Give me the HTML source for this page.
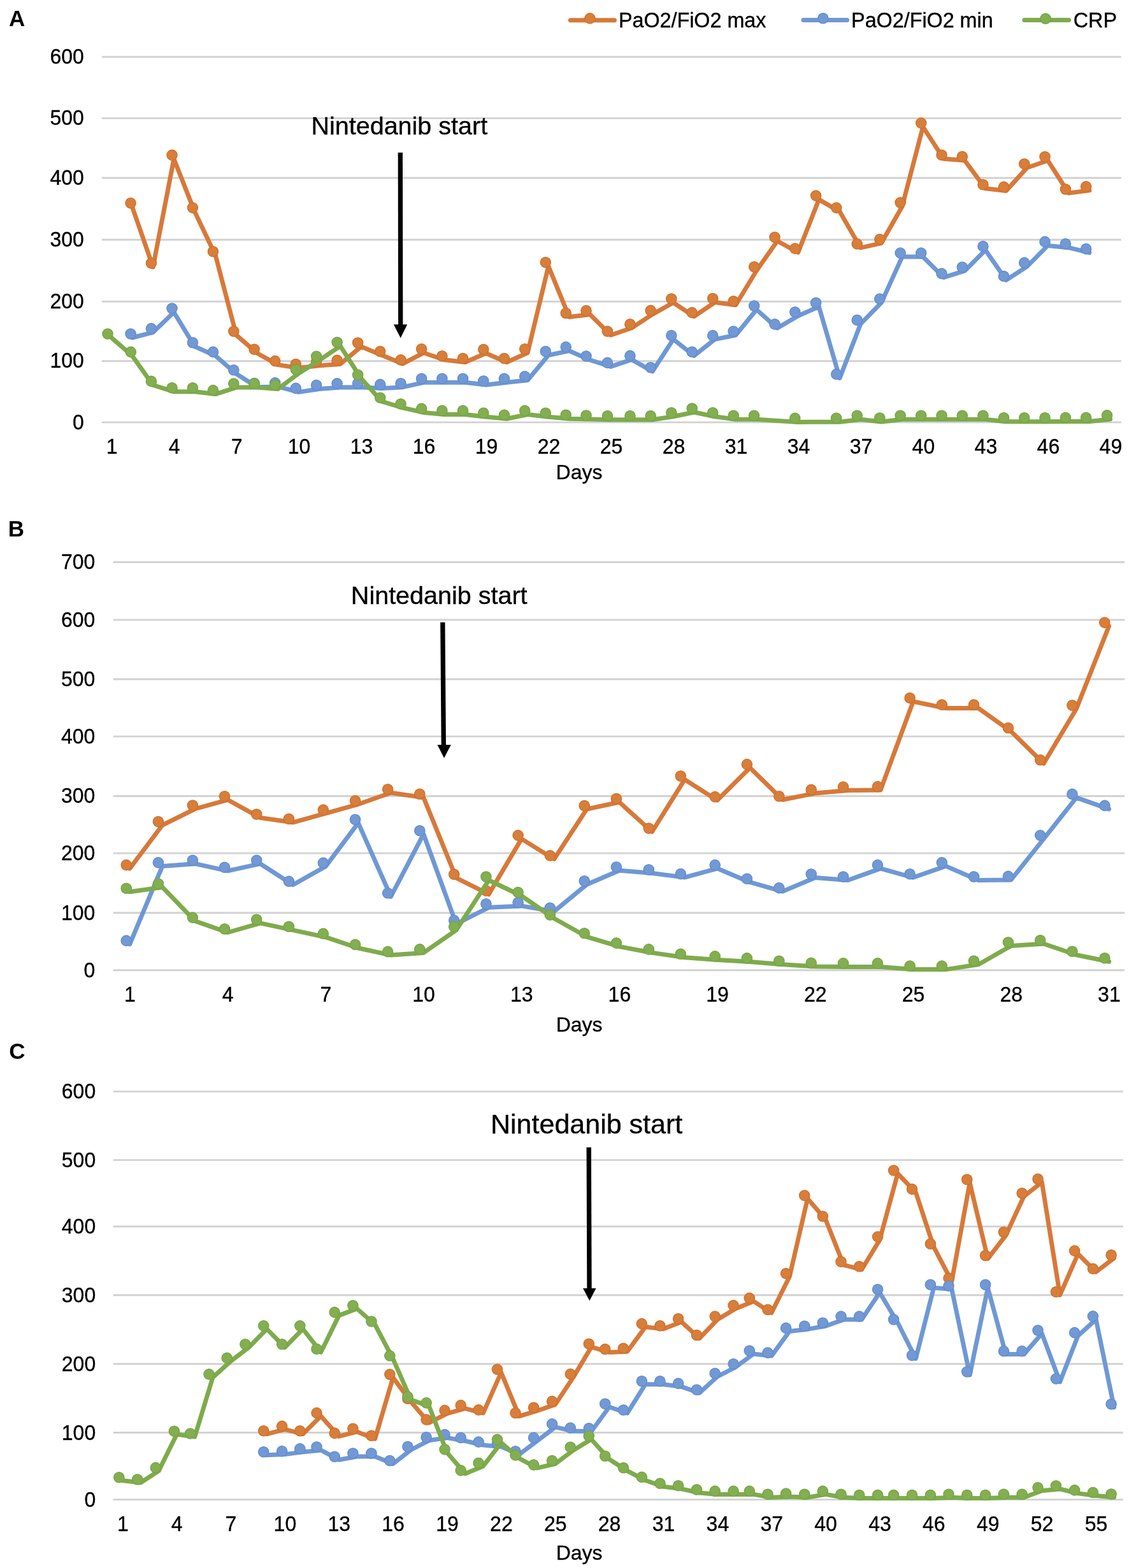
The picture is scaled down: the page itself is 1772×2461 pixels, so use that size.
<!DOCTYPE html>
<html><head><meta charset="utf-8"><title>Figure</title>
<style>html,body{margin:0;padding:0;background:#fff}svg{display:block}</style>
</head><body>
<svg width="1772" height="2461" viewBox="0 0 1772 2461">
<style>.t{font-family:'Liberation Sans', Arial, Helvetica, sans-serif;font-size:32px;fill:#000;stroke:#000;stroke-width:0.35px}.L{font-family:'Liberation Sans', Arial, Helvetica, sans-serif;font-size:35px;font-weight:bold;fill:#000}</style>
<rect width="1772" height="2461" fill="#fff"/>
<text x="14" y="41.2" class="L">A</text>
<text x="12.7" y="841.9" class="L">B</text>
<text x="14.2" y="1662.4" class="L">C</text>
<line x1="895.3" y1="31.7" x2="964.5" y2="31.7" stroke="#d7793a" stroke-width="7.0" stroke-linecap="round"/>
<circle cx="925.9" cy="28.9" r="8.15" fill="#d77e3b" stroke="#cf6f28" stroke-width="1.3"/>
<text x="970.9" y="42.7" class="t" style="font-size:32.3px">PaO2/FiO2 max</text>
<line x1="1261" y1="31.6" x2="1329.5" y2="31.6" stroke="#6f98d4" stroke-width="7.0" stroke-linecap="round"/>
<circle cx="1291.8" cy="28.7" r="8.15" fill="#7299d3" stroke="#5f8bd0" stroke-width="1.3"/>
<text x="1336.1" y="42.7" class="t" style="font-size:32.3px">PaO2/FiO2 min</text>
<line x1="1607.8" y1="31.5" x2="1677.5" y2="31.5" stroke="#7eab4c" stroke-width="7.0" stroke-linecap="round"/>
<circle cx="1641" cy="29.3" r="8.15" fill="#84ae52" stroke="#73a640" stroke-width="1.3"/>
<text x="1684.8" y="42.7" class="t" style="font-size:32.3px">CRP</text>
<line x1="159.8" y1="89.2" x2="1759.7" y2="89.2" stroke="#d2d2d2" stroke-width="2.9"/>
<line x1="159.8" y1="185.6" x2="1759.7" y2="185.6" stroke="#d2d2d2" stroke-width="2.9"/>
<line x1="159.8" y1="279.2" x2="1759.7" y2="279.2" stroke="#d2d2d2" stroke-width="2.9"/>
<line x1="159.8" y1="376.3" x2="1759.7" y2="376.3" stroke="#d2d2d2" stroke-width="2.9"/>
<line x1="159.8" y1="473.2" x2="1759.7" y2="473.2" stroke="#d2d2d2" stroke-width="2.9"/>
<line x1="159.8" y1="566.8" x2="1759.7" y2="566.8" stroke="#d2d2d2" stroke-width="2.9"/>
<line x1="159.8" y1="662.9" x2="1759.7" y2="662.9" stroke="#d2d2d2" stroke-width="2.9"/>
<text transform="translate(131.8,99.8) scale(1,1.045)" text-anchor="end" class="t">600</text>
<text transform="translate(131.8,196.2) scale(1,1.045)" text-anchor="end" class="t">500</text>
<text transform="translate(131.8,289.8) scale(1,1.045)" text-anchor="end" class="t">400</text>
<text transform="translate(131.8,386.9) scale(1,1.045)" text-anchor="end" class="t">300</text>
<text transform="translate(131.8,483.8) scale(1,1.045)" text-anchor="end" class="t">200</text>
<text transform="translate(131.8,577.4) scale(1,1.045)" text-anchor="end" class="t">100</text>
<text transform="translate(131.8,673.5) scale(1,1.045)" text-anchor="end" class="t">0</text>
<text transform="translate(175.7,711.9) scale(1,1.045)" text-anchor="middle" class="t">1</text>
<text transform="translate(273.7,711.9) scale(1,1.045)" text-anchor="middle" class="t">4</text>
<text transform="translate(371.7,711.9) scale(1,1.045)" text-anchor="middle" class="t">7</text>
<text transform="translate(469.6,711.9) scale(1,1.045)" text-anchor="middle" class="t">10</text>
<text transform="translate(567.6,711.9) scale(1,1.045)" text-anchor="middle" class="t">13</text>
<text transform="translate(665.6,711.9) scale(1,1.045)" text-anchor="middle" class="t">16</text>
<text transform="translate(763.6,711.9) scale(1,1.045)" text-anchor="middle" class="t">19</text>
<text transform="translate(861.6,711.9) scale(1,1.045)" text-anchor="middle" class="t">22</text>
<text transform="translate(959.5,711.9) scale(1,1.045)" text-anchor="middle" class="t">25</text>
<text transform="translate(1057.5,711.9) scale(1,1.045)" text-anchor="middle" class="t">28</text>
<text transform="translate(1155.5,711.9) scale(1,1.045)" text-anchor="middle" class="t">31</text>
<text transform="translate(1253.5,711.9) scale(1,1.045)" text-anchor="middle" class="t">34</text>
<text transform="translate(1351.5,711.9) scale(1,1.045)" text-anchor="middle" class="t">37</text>
<text transform="translate(1449.4,711.9) scale(1,1.045)" text-anchor="middle" class="t">40</text>
<text transform="translate(1547.4,711.9) scale(1,1.045)" text-anchor="middle" class="t">43</text>
<text transform="translate(1645.4,711.9) scale(1,1.045)" text-anchor="middle" class="t">46</text>
<text transform="translate(1743.4,711.9) scale(1,1.045)" text-anchor="middle" class="t">49</text>
<text x="909" y="752.1" text-anchor="middle" class="t">Days</text>
<text x="626.8" y="210.6" text-anchor="middle" class="t" style="font-size:39.5px">Nintedanib start</text>
<line x1="628.3" y1="239.4" x2="628.7" y2="511.3" stroke="#000" stroke-width="7.3"/>
<polygon points="617.9,509.3 639.2,509.3 628.7,530.4" fill="#000"/>
<polyline points="207.6,324.8 240.2,419.1 272.9,249.4 305.5,332.1 338.2,400.7 370.9,526 403.5,554.2 436.2,572.6 468.8,577.5 501.5,573.8 534.2,571.4 566.8,544 599.5,557.5 632.1,570.9 664.8,553.8 697.5,564.8 730.1,568.5 762.8,554.5 795.4,568.5 828.1,553.8 860.8,417.8 893.4,497.5 926.1,493.6 958.7,526 991.4,514.7 1024.1,493.4 1056.7,475 1089.4,496.6 1122,474.5 1154.7,478.7 1187.4,424.8 1220,378.3 1252.7,396.1 1285.3,313.1 1318,332.1 1350.7,388.9 1383.3,381.6 1416,324 1448.6,199.1 1481.3,249.3 1514,251.7 1546.6,295.8 1579.3,299.4 1611.9,263.3 1644.6,252 1677.3,303 1709.9,298.9" fill="none" stroke="#d7793a" stroke-width="7.0" stroke-linejoin="round" stroke-linecap="round"/>
<circle cx="205.1" cy="318.8" r="8.15" fill="#d77e3b" stroke="#cf6f28" stroke-width="1.3"/>
<circle cx="237.4" cy="413.1" r="8.15" fill="#d77e3b" stroke="#cf6f28" stroke-width="1.3"/>
<circle cx="270" cy="243.4" r="8.15" fill="#d77e3b" stroke="#cf6f28" stroke-width="1.3"/>
<circle cx="302.4" cy="326.1" r="8.15" fill="#d77e3b" stroke="#cf6f28" stroke-width="1.3"/>
<circle cx="334.4" cy="394.7" r="8.15" fill="#d77e3b" stroke="#cf6f28" stroke-width="1.3"/>
<circle cx="366.8" cy="520" r="8.15" fill="#d77e3b" stroke="#cf6f28" stroke-width="1.3"/>
<circle cx="399.1" cy="548.2" r="8.15" fill="#d77e3b" stroke="#cf6f28" stroke-width="1.3"/>
<circle cx="431.7" cy="566.6" r="8.15" fill="#d77e3b" stroke="#cf6f28" stroke-width="1.3"/>
<circle cx="464.3" cy="571.5" r="8.15" fill="#d77e3b" stroke="#cf6f28" stroke-width="1.3"/>
<circle cx="496.6" cy="567.8" r="8.15" fill="#d77e3b" stroke="#cf6f28" stroke-width="1.3"/>
<circle cx="529.1" cy="565.4" r="8.15" fill="#d77e3b" stroke="#cf6f28" stroke-width="1.3"/>
<circle cx="561.6" cy="538" r="8.15" fill="#d77e3b" stroke="#cf6f28" stroke-width="1.3"/>
<circle cx="596.7" cy="551.5" r="8.15" fill="#d77e3b" stroke="#cf6f28" stroke-width="1.3"/>
<circle cx="629" cy="564.9" r="8.15" fill="#d77e3b" stroke="#cf6f28" stroke-width="1.3"/>
<circle cx="661.6" cy="547.8" r="8.15" fill="#d77e3b" stroke="#cf6f28" stroke-width="1.3"/>
<circle cx="693.9" cy="558.8" r="8.15" fill="#d77e3b" stroke="#cf6f28" stroke-width="1.3"/>
<circle cx="726.5" cy="562.5" r="8.15" fill="#d77e3b" stroke="#cf6f28" stroke-width="1.3"/>
<circle cx="758.8" cy="548.5" r="8.15" fill="#d77e3b" stroke="#cf6f28" stroke-width="1.3"/>
<circle cx="791.4" cy="562.5" r="8.15" fill="#d77e3b" stroke="#cf6f28" stroke-width="1.3"/>
<circle cx="823.7" cy="547.8" r="8.15" fill="#d77e3b" stroke="#cf6f28" stroke-width="1.3"/>
<circle cx="856.3" cy="411.8" r="8.15" fill="#d77e3b" stroke="#cf6f28" stroke-width="1.3"/>
<circle cx="888.2" cy="491.5" r="8.15" fill="#d77e3b" stroke="#cf6f28" stroke-width="1.3"/>
<circle cx="920" cy="487.6" r="8.15" fill="#d77e3b" stroke="#cf6f28" stroke-width="1.3"/>
<circle cx="953.4" cy="520" r="8.15" fill="#d77e3b" stroke="#cf6f28" stroke-width="1.3"/>
<circle cx="988.9" cy="508.7" r="8.15" fill="#d77e3b" stroke="#cf6f28" stroke-width="1.3"/>
<circle cx="1021.2" cy="487.4" r="8.15" fill="#d77e3b" stroke="#cf6f28" stroke-width="1.3"/>
<circle cx="1053.8" cy="469" r="8.15" fill="#d77e3b" stroke="#cf6f28" stroke-width="1.3"/>
<circle cx="1086.2" cy="490.6" r="8.15" fill="#d77e3b" stroke="#cf6f28" stroke-width="1.3"/>
<circle cx="1118.7" cy="468.5" r="8.15" fill="#d77e3b" stroke="#cf6f28" stroke-width="1.3"/>
<circle cx="1151.1" cy="472.7" r="8.15" fill="#d77e3b" stroke="#cf6f28" stroke-width="1.3"/>
<circle cx="1183.7" cy="418.8" r="8.15" fill="#d77e3b" stroke="#cf6f28" stroke-width="1.3"/>
<circle cx="1216" cy="372.3" r="8.15" fill="#d77e3b" stroke="#cf6f28" stroke-width="1.3"/>
<circle cx="1247.8" cy="390.1" r="8.15" fill="#d77e3b" stroke="#cf6f28" stroke-width="1.3"/>
<circle cx="1280.6" cy="307.1" r="8.15" fill="#d77e3b" stroke="#cf6f28" stroke-width="1.3"/>
<circle cx="1312.7" cy="326.1" r="8.15" fill="#d77e3b" stroke="#cf6f28" stroke-width="1.3"/>
<circle cx="1345.2" cy="382.9" r="8.15" fill="#d77e3b" stroke="#cf6f28" stroke-width="1.3"/>
<circle cx="1380.8" cy="375.6" r="8.15" fill="#d77e3b" stroke="#cf6f28" stroke-width="1.3"/>
<circle cx="1413.1" cy="318" r="8.15" fill="#d77e3b" stroke="#cf6f28" stroke-width="1.3"/>
<circle cx="1445.7" cy="193.1" r="8.15" fill="#d77e3b" stroke="#cf6f28" stroke-width="1.3"/>
<circle cx="1478" cy="243.3" r="8.15" fill="#d77e3b" stroke="#cf6f28" stroke-width="1.3"/>
<circle cx="1510.3" cy="245.7" r="8.15" fill="#d77e3b" stroke="#cf6f28" stroke-width="1.3"/>
<circle cx="1542.9" cy="289.8" r="8.15" fill="#d77e3b" stroke="#cf6f28" stroke-width="1.3"/>
<circle cx="1575.5" cy="293.4" r="8.15" fill="#d77e3b" stroke="#cf6f28" stroke-width="1.3"/>
<circle cx="1607.7" cy="257.3" r="8.15" fill="#d77e3b" stroke="#cf6f28" stroke-width="1.3"/>
<circle cx="1640" cy="246" r="8.15" fill="#d77e3b" stroke="#cf6f28" stroke-width="1.3"/>
<circle cx="1672.4" cy="297" r="8.15" fill="#d77e3b" stroke="#cf6f28" stroke-width="1.3"/>
<circle cx="1704.6" cy="292.9" r="8.15" fill="#d77e3b" stroke="#cf6f28" stroke-width="1.3"/>
<polyline points="207.6,530 240.2,521.6 272.9,490 305.5,543.7 338.2,558.4 370.9,586.8 403.5,607.5 436.2,606.9 468.8,615.4 501.5,610.5 534.2,607.9 566.8,607.7 599.5,609.4 632.1,607.7 664.8,600.3 697.5,600.3 730.1,600.3 762.8,604 795.4,600.3 828.1,596.7 860.8,557.5 893.4,550.6 926.1,565 958.7,575.4 991.4,564.4 1024.1,582.8 1056.7,532.6 1089.4,558.3 1122,532.6 1154.7,526 1187.4,486 1220,514.9 1252.7,495.8 1285.3,481.3 1318,593.4 1350.7,508.4 1383.3,475.1 1416,403.1 1448.6,403.1 1481.3,435.4 1514,425.2 1546.6,392.6 1579.3,439.5 1611.9,418.4 1644.6,385.4 1677.3,388.7 1709.9,396.6" fill="none" stroke="#6f98d4" stroke-width="7.0" stroke-linejoin="round" stroke-linecap="round"/>
<circle cx="205.1" cy="524" r="8.15" fill="#7299d3" stroke="#5f8bd0" stroke-width="1.3"/>
<circle cx="237.4" cy="515.6" r="8.15" fill="#7299d3" stroke="#5f8bd0" stroke-width="1.3"/>
<circle cx="270" cy="484" r="8.15" fill="#7299d3" stroke="#5f8bd0" stroke-width="1.3"/>
<circle cx="302.4" cy="537.7" r="8.15" fill="#7299d3" stroke="#5f8bd0" stroke-width="1.3"/>
<circle cx="334.4" cy="552.4" r="8.15" fill="#7299d3" stroke="#5f8bd0" stroke-width="1.3"/>
<circle cx="366.8" cy="580.8" r="8.15" fill="#7299d3" stroke="#5f8bd0" stroke-width="1.3"/>
<circle cx="399.1" cy="601.5" r="8.15" fill="#7299d3" stroke="#5f8bd0" stroke-width="1.3"/>
<circle cx="431.7" cy="600.9" r="8.15" fill="#7299d3" stroke="#5f8bd0" stroke-width="1.3"/>
<circle cx="464.3" cy="609.4" r="8.15" fill="#7299d3" stroke="#5f8bd0" stroke-width="1.3"/>
<circle cx="496.6" cy="604.5" r="8.15" fill="#7299d3" stroke="#5f8bd0" stroke-width="1.3"/>
<circle cx="529.1" cy="601.9" r="8.15" fill="#7299d3" stroke="#5f8bd0" stroke-width="1.3"/>
<circle cx="561.6" cy="601.7" r="8.15" fill="#7299d3" stroke="#5f8bd0" stroke-width="1.3"/>
<circle cx="596.7" cy="603.4" r="8.15" fill="#7299d3" stroke="#5f8bd0" stroke-width="1.3"/>
<circle cx="629" cy="601.7" r="8.15" fill="#7299d3" stroke="#5f8bd0" stroke-width="1.3"/>
<circle cx="661.6" cy="594.3" r="8.15" fill="#7299d3" stroke="#5f8bd0" stroke-width="1.3"/>
<circle cx="693.9" cy="594.3" r="8.15" fill="#7299d3" stroke="#5f8bd0" stroke-width="1.3"/>
<circle cx="726.5" cy="594.3" r="8.15" fill="#7299d3" stroke="#5f8bd0" stroke-width="1.3"/>
<circle cx="758.8" cy="598" r="8.15" fill="#7299d3" stroke="#5f8bd0" stroke-width="1.3"/>
<circle cx="791.4" cy="594.3" r="8.15" fill="#7299d3" stroke="#5f8bd0" stroke-width="1.3"/>
<circle cx="823.7" cy="590.7" r="8.15" fill="#7299d3" stroke="#5f8bd0" stroke-width="1.3"/>
<circle cx="856.3" cy="551.5" r="8.15" fill="#7299d3" stroke="#5f8bd0" stroke-width="1.3"/>
<circle cx="888.2" cy="544.6" r="8.15" fill="#7299d3" stroke="#5f8bd0" stroke-width="1.3"/>
<circle cx="920" cy="559" r="8.15" fill="#7299d3" stroke="#5f8bd0" stroke-width="1.3"/>
<circle cx="953.4" cy="569.4" r="8.15" fill="#7299d3" stroke="#5f8bd0" stroke-width="1.3"/>
<circle cx="988.9" cy="558.4" r="8.15" fill="#7299d3" stroke="#5f8bd0" stroke-width="1.3"/>
<circle cx="1021.2" cy="576.8" r="8.15" fill="#7299d3" stroke="#5f8bd0" stroke-width="1.3"/>
<circle cx="1053.8" cy="526.6" r="8.15" fill="#7299d3" stroke="#5f8bd0" stroke-width="1.3"/>
<circle cx="1086.2" cy="552.3" r="8.15" fill="#7299d3" stroke="#5f8bd0" stroke-width="1.3"/>
<circle cx="1118.7" cy="526.6" r="8.15" fill="#7299d3" stroke="#5f8bd0" stroke-width="1.3"/>
<circle cx="1151.1" cy="520" r="8.15" fill="#7299d3" stroke="#5f8bd0" stroke-width="1.3"/>
<circle cx="1183.7" cy="480" r="8.15" fill="#7299d3" stroke="#5f8bd0" stroke-width="1.3"/>
<circle cx="1216" cy="508.9" r="8.15" fill="#7299d3" stroke="#5f8bd0" stroke-width="1.3"/>
<circle cx="1247.8" cy="489.8" r="8.15" fill="#7299d3" stroke="#5f8bd0" stroke-width="1.3"/>
<circle cx="1280.6" cy="475.3" r="8.15" fill="#7299d3" stroke="#5f8bd0" stroke-width="1.3"/>
<circle cx="1312.7" cy="587.4" r="8.15" fill="#7299d3" stroke="#5f8bd0" stroke-width="1.3"/>
<circle cx="1345.2" cy="502.4" r="8.15" fill="#7299d3" stroke="#5f8bd0" stroke-width="1.3"/>
<circle cx="1380.8" cy="469.1" r="8.15" fill="#7299d3" stroke="#5f8bd0" stroke-width="1.3"/>
<circle cx="1413.1" cy="397.1" r="8.15" fill="#7299d3" stroke="#5f8bd0" stroke-width="1.3"/>
<circle cx="1445.7" cy="397.1" r="8.15" fill="#7299d3" stroke="#5f8bd0" stroke-width="1.3"/>
<circle cx="1478" cy="429.4" r="8.15" fill="#7299d3" stroke="#5f8bd0" stroke-width="1.3"/>
<circle cx="1510.3" cy="419.2" r="8.15" fill="#7299d3" stroke="#5f8bd0" stroke-width="1.3"/>
<circle cx="1542.9" cy="386.6" r="8.15" fill="#7299d3" stroke="#5f8bd0" stroke-width="1.3"/>
<circle cx="1575.5" cy="433.5" r="8.15" fill="#7299d3" stroke="#5f8bd0" stroke-width="1.3"/>
<circle cx="1607.7" cy="412.4" r="8.15" fill="#7299d3" stroke="#5f8bd0" stroke-width="1.3"/>
<circle cx="1640" cy="379.4" r="8.15" fill="#7299d3" stroke="#5f8bd0" stroke-width="1.3"/>
<circle cx="1672.4" cy="382.7" r="8.15" fill="#7299d3" stroke="#5f8bd0" stroke-width="1.3"/>
<circle cx="1704.6" cy="390.6" r="8.15" fill="#7299d3" stroke="#5f8bd0" stroke-width="1.3"/>
<polyline points="174.9,530 207.6,558.4 240.2,604.4 272.9,614.7 305.5,614.7 338.2,618.6 370.9,608.1 403.5,608.1 436.2,610.5 468.8,586 501.5,565.2 534.2,543.2 566.8,594.2 599.5,630.2 632.1,640 664.8,647.4 697.5,650.5 730.1,650.5 762.8,654.2 795.4,657.2 828.1,650.5 860.8,654.2 893.4,657.2 926.1,658 958.7,658.7 991.4,658.7 1024.1,658.7 1056.7,653.8 1089.4,647 1122,653.8 1154.7,658.3 1187.4,658.3 1252.7,662.4 1318,662.2 1350.7,658.3 1383.3,662 1416,658.3 1448.6,658.3 1481.3,658.3 1514,658.3 1546.6,658.3 1579.3,661.7 1611.9,661.7 1644.6,661.7 1677.3,661.5 1709.9,661.5 1742.6,657.9" fill="none" stroke="#7eab4c" stroke-width="7.0" stroke-linejoin="round" stroke-linecap="round"/>
<circle cx="169" cy="524" r="8.15" fill="#84ae52" stroke="#73a640" stroke-width="1.3"/>
<circle cx="205.3" cy="552.4" r="8.15" fill="#84ae52" stroke="#73a640" stroke-width="1.3"/>
<circle cx="237.4" cy="598.4" r="8.15" fill="#84ae52" stroke="#73a640" stroke-width="1.3"/>
<circle cx="270" cy="608.7" r="8.15" fill="#84ae52" stroke="#73a640" stroke-width="1.3"/>
<circle cx="302.4" cy="608.7" r="8.15" fill="#84ae52" stroke="#73a640" stroke-width="1.3"/>
<circle cx="334.4" cy="612.6" r="8.15" fill="#84ae52" stroke="#73a640" stroke-width="1.3"/>
<circle cx="366.8" cy="602.1" r="8.15" fill="#84ae52" stroke="#73a640" stroke-width="1.3"/>
<circle cx="399.1" cy="602.1" r="8.15" fill="#84ae52" stroke="#73a640" stroke-width="1.3"/>
<circle cx="431.7" cy="604.5" r="8.15" fill="#84ae52" stroke="#73a640" stroke-width="1.3"/>
<circle cx="464.3" cy="580" r="8.15" fill="#84ae52" stroke="#73a640" stroke-width="1.3"/>
<circle cx="496.6" cy="559.2" r="8.15" fill="#84ae52" stroke="#73a640" stroke-width="1.3"/>
<circle cx="529.1" cy="537.2" r="8.15" fill="#84ae52" stroke="#73a640" stroke-width="1.3"/>
<circle cx="561.6" cy="588.2" r="8.15" fill="#84ae52" stroke="#73a640" stroke-width="1.3"/>
<circle cx="596.7" cy="624.2" r="8.15" fill="#84ae52" stroke="#73a640" stroke-width="1.3"/>
<circle cx="629" cy="634" r="8.15" fill="#84ae52" stroke="#73a640" stroke-width="1.3"/>
<circle cx="661.6" cy="641.4" r="8.15" fill="#84ae52" stroke="#73a640" stroke-width="1.3"/>
<circle cx="693.9" cy="644.5" r="8.15" fill="#84ae52" stroke="#73a640" stroke-width="1.3"/>
<circle cx="726.5" cy="644.5" r="8.15" fill="#84ae52" stroke="#73a640" stroke-width="1.3"/>
<circle cx="758.8" cy="648.2" r="8.15" fill="#84ae52" stroke="#73a640" stroke-width="1.3"/>
<circle cx="791.4" cy="651.2" r="8.15" fill="#84ae52" stroke="#73a640" stroke-width="1.3"/>
<circle cx="823.7" cy="644.5" r="8.15" fill="#84ae52" stroke="#73a640" stroke-width="1.3"/>
<circle cx="856.3" cy="648.2" r="8.15" fill="#84ae52" stroke="#73a640" stroke-width="1.3"/>
<circle cx="888.2" cy="651.2" r="8.15" fill="#84ae52" stroke="#73a640" stroke-width="1.3"/>
<circle cx="920" cy="652" r="8.15" fill="#84ae52" stroke="#73a640" stroke-width="1.3"/>
<circle cx="953.4" cy="652.7" r="8.15" fill="#84ae52" stroke="#73a640" stroke-width="1.3"/>
<circle cx="988.9" cy="652.7" r="8.15" fill="#84ae52" stroke="#73a640" stroke-width="1.3"/>
<circle cx="1021.2" cy="652.7" r="8.15" fill="#84ae52" stroke="#73a640" stroke-width="1.3"/>
<circle cx="1053.8" cy="647.8" r="8.15" fill="#84ae52" stroke="#73a640" stroke-width="1.3"/>
<circle cx="1086.2" cy="641" r="8.15" fill="#84ae52" stroke="#73a640" stroke-width="1.3"/>
<circle cx="1118.7" cy="647.8" r="8.15" fill="#84ae52" stroke="#73a640" stroke-width="1.3"/>
<circle cx="1151.3" cy="652.3" r="8.15" fill="#84ae52" stroke="#73a640" stroke-width="1.3"/>
<circle cx="1183.5" cy="652.3" r="8.15" fill="#84ae52" stroke="#73a640" stroke-width="1.3"/>
<circle cx="1247.8" cy="656.4" r="8.15" fill="#84ae52" stroke="#73a640" stroke-width="1.3"/>
<circle cx="1312.6" cy="656.2" r="8.15" fill="#84ae52" stroke="#73a640" stroke-width="1.3"/>
<circle cx="1345.2" cy="652.3" r="8.15" fill="#84ae52" stroke="#73a640" stroke-width="1.3"/>
<circle cx="1380.8" cy="656" r="8.15" fill="#84ae52" stroke="#73a640" stroke-width="1.3"/>
<circle cx="1413.1" cy="652.3" r="8.15" fill="#84ae52" stroke="#73a640" stroke-width="1.3"/>
<circle cx="1445.7" cy="652.3" r="8.15" fill="#84ae52" stroke="#73a640" stroke-width="1.3"/>
<circle cx="1478" cy="652.3" r="8.15" fill="#84ae52" stroke="#73a640" stroke-width="1.3"/>
<circle cx="1510.3" cy="652.3" r="8.15" fill="#84ae52" stroke="#73a640" stroke-width="1.3"/>
<circle cx="1542.9" cy="652.3" r="8.15" fill="#84ae52" stroke="#73a640" stroke-width="1.3"/>
<circle cx="1575.5" cy="655.7" r="8.15" fill="#84ae52" stroke="#73a640" stroke-width="1.3"/>
<circle cx="1607.7" cy="655.7" r="8.15" fill="#84ae52" stroke="#73a640" stroke-width="1.3"/>
<circle cx="1640" cy="655.7" r="8.15" fill="#84ae52" stroke="#73a640" stroke-width="1.3"/>
<circle cx="1672.4" cy="655.5" r="8.15" fill="#84ae52" stroke="#73a640" stroke-width="1.3"/>
<circle cx="1704.6" cy="655.5" r="8.15" fill="#84ae52" stroke="#73a640" stroke-width="1.3"/>
<circle cx="1737.5" cy="651.9" r="8.15" fill="#84ae52" stroke="#73a640" stroke-width="1.3"/>
<line x1="177.7" y1="882.2" x2="1765" y2="882.2" stroke="#d2d2d2" stroke-width="2.9"/>
<line x1="177.7" y1="972.9" x2="1765" y2="972.9" stroke="#d2d2d2" stroke-width="2.9"/>
<line x1="177.7" y1="1066" x2="1765" y2="1066" stroke="#d2d2d2" stroke-width="2.9"/>
<line x1="177.7" y1="1155.9" x2="1765" y2="1155.9" stroke="#d2d2d2" stroke-width="2.9"/>
<line x1="177.7" y1="1249.5" x2="1765" y2="1249.5" stroke="#d2d2d2" stroke-width="2.9"/>
<line x1="177.7" y1="1339.1" x2="1765" y2="1339.1" stroke="#d2d2d2" stroke-width="2.9"/>
<line x1="177.7" y1="1432.7" x2="1765" y2="1432.7" stroke="#d2d2d2" stroke-width="2.9"/>
<line x1="177.7" y1="1522.8" x2="1765" y2="1522.8" stroke="#d2d2d2" stroke-width="2.9"/>
<text transform="translate(149.4,893.1) scale(1,1.045)" text-anchor="end" class="t">700</text>
<text transform="translate(149.4,983.8) scale(1,1.045)" text-anchor="end" class="t">600</text>
<text transform="translate(149.4,1076.9) scale(1,1.045)" text-anchor="end" class="t">500</text>
<text transform="translate(149.4,1166.8) scale(1,1.045)" text-anchor="end" class="t">400</text>
<text transform="translate(149.4,1260.4) scale(1,1.045)" text-anchor="end" class="t">300</text>
<text transform="translate(149.4,1350) scale(1,1.045)" text-anchor="end" class="t">200</text>
<text transform="translate(149.4,1443.6) scale(1,1.045)" text-anchor="end" class="t">100</text>
<text transform="translate(149.4,1533.7) scale(1,1.045)" text-anchor="end" class="t">0</text>
<text transform="translate(204,1571.9) scale(1,1.045)" text-anchor="middle" class="t">1</text>
<text transform="translate(357.7,1571.9) scale(1,1.045)" text-anchor="middle" class="t">4</text>
<text transform="translate(511.4,1571.9) scale(1,1.045)" text-anchor="middle" class="t">7</text>
<text transform="translate(665.1,1571.9) scale(1,1.045)" text-anchor="middle" class="t">10</text>
<text transform="translate(818.8,1571.9) scale(1,1.045)" text-anchor="middle" class="t">13</text>
<text transform="translate(972.4,1571.9) scale(1,1.045)" text-anchor="middle" class="t">16</text>
<text transform="translate(1126.1,1571.9) scale(1,1.045)" text-anchor="middle" class="t">19</text>
<text transform="translate(1279.8,1571.9) scale(1,1.045)" text-anchor="middle" class="t">22</text>
<text transform="translate(1433.5,1571.9) scale(1,1.045)" text-anchor="middle" class="t">25</text>
<text transform="translate(1587.2,1571.9) scale(1,1.045)" text-anchor="middle" class="t">28</text>
<text transform="translate(1740.9,1571.9) scale(1,1.045)" text-anchor="middle" class="t">31</text>
<text x="909.1" y="1619.2" text-anchor="middle" class="t">Days</text>
<text x="689.2" y="947.6" text-anchor="middle" class="t" style="font-size:39.5px">Nintedanib start</text>
<line x1="694.8" y1="976.8" x2="696.3" y2="1171" stroke="#000" stroke-width="7.3"/>
<polygon points="686.5,1169 707.8,1169 697,1189.8" fill="#000"/>
<polyline points="203.7,1363.1 254.9,1295 306.2,1269.5 357.4,1255.3 408.6,1283.5 459.8,1290.8 511.1,1276.6 562.3,1262.3 613.5,1244.3 664.8,1251.7 716,1377.8 767.2,1403.5 818.5,1316.6 869.7,1348.4 920.9,1270 972.1,1259 1023.4,1305.5 1074.6,1223.5 1125.8,1256.1 1177.1,1205.1 1228.3,1255.3 1279.5,1245 1330.8,1240.6 1382,1240.1 1433.2,1101 1484.5,1111.6 1535.7,1111.6 1586.9,1148 1638.1,1198.3 1689.4,1112.5 1740.6,982.6" fill="none" stroke="#d7793a" stroke-width="7.0" stroke-linejoin="round" stroke-linecap="round"/>
<circle cx="198.2" cy="1357.6" r="8.15" fill="#d77e3b" stroke="#cf6f28" stroke-width="1.3"/>
<circle cx="248.4" cy="1289.5" r="8.15" fill="#d77e3b" stroke="#cf6f28" stroke-width="1.3"/>
<circle cx="302.3" cy="1264" r="8.15" fill="#d77e3b" stroke="#cf6f28" stroke-width="1.3"/>
<circle cx="352.5" cy="1249.8" r="8.15" fill="#d77e3b" stroke="#cf6f28" stroke-width="1.3"/>
<circle cx="402.7" cy="1278" r="8.15" fill="#d77e3b" stroke="#cf6f28" stroke-width="1.3"/>
<circle cx="453.4" cy="1285.3" r="8.15" fill="#d77e3b" stroke="#cf6f28" stroke-width="1.3"/>
<circle cx="507.3" cy="1271.1" r="8.15" fill="#d77e3b" stroke="#cf6f28" stroke-width="1.3"/>
<circle cx="557.5" cy="1256.8" r="8.15" fill="#d77e3b" stroke="#cf6f28" stroke-width="1.3"/>
<circle cx="608.6" cy="1238.8" r="8.15" fill="#d77e3b" stroke="#cf6f28" stroke-width="1.3"/>
<circle cx="658.8" cy="1246.2" r="8.15" fill="#d77e3b" stroke="#cf6f28" stroke-width="1.3"/>
<circle cx="712.7" cy="1372.3" r="8.15" fill="#d77e3b" stroke="#cf6f28" stroke-width="1.3"/>
<circle cx="762.9" cy="1398" r="8.15" fill="#d77e3b" stroke="#cf6f28" stroke-width="1.3"/>
<circle cx="813.1" cy="1311.1" r="8.15" fill="#d77e3b" stroke="#cf6f28" stroke-width="1.3"/>
<circle cx="863.3" cy="1342.9" r="8.15" fill="#d77e3b" stroke="#cf6f28" stroke-width="1.3"/>
<circle cx="917.2" cy="1264.5" r="8.15" fill="#d77e3b" stroke="#cf6f28" stroke-width="1.3"/>
<circle cx="967.4" cy="1253.5" r="8.15" fill="#d77e3b" stroke="#cf6f28" stroke-width="1.3"/>
<circle cx="1018.3" cy="1300" r="8.15" fill="#d77e3b" stroke="#cf6f28" stroke-width="1.3"/>
<circle cx="1068.3" cy="1218" r="8.15" fill="#d77e3b" stroke="#cf6f28" stroke-width="1.3"/>
<circle cx="1122.2" cy="1250.6" r="8.15" fill="#d77e3b" stroke="#cf6f28" stroke-width="1.3"/>
<circle cx="1172.4" cy="1199.6" r="8.15" fill="#d77e3b" stroke="#cf6f28" stroke-width="1.3"/>
<circle cx="1222.8" cy="1249.8" r="8.15" fill="#d77e3b" stroke="#cf6f28" stroke-width="1.3"/>
<circle cx="1273.2" cy="1239.5" r="8.15" fill="#d77e3b" stroke="#cf6f28" stroke-width="1.3"/>
<circle cx="1323.5" cy="1235.1" r="8.15" fill="#d77e3b" stroke="#cf6f28" stroke-width="1.3"/>
<circle cx="1377.4" cy="1234.6" r="8.15" fill="#d77e3b" stroke="#cf6f28" stroke-width="1.3"/>
<circle cx="1428.1" cy="1095.5" r="8.15" fill="#d77e3b" stroke="#cf6f28" stroke-width="1.3"/>
<circle cx="1478.3" cy="1106.1" r="8.15" fill="#d77e3b" stroke="#cf6f28" stroke-width="1.3"/>
<circle cx="1528.5" cy="1106.1" r="8.15" fill="#d77e3b" stroke="#cf6f28" stroke-width="1.3"/>
<circle cx="1582.4" cy="1142.5" r="8.15" fill="#d77e3b" stroke="#cf6f28" stroke-width="1.3"/>
<circle cx="1632.7" cy="1192.8" r="8.15" fill="#d77e3b" stroke="#cf6f28" stroke-width="1.3"/>
<circle cx="1682.9" cy="1107" r="8.15" fill="#d77e3b" stroke="#cf6f28" stroke-width="1.3"/>
<circle cx="1733.7" cy="977.1" r="8.15" fill="#d77e3b" stroke="#cf6f28" stroke-width="1.3"/>
<polyline points="203.7,1481.9 254.9,1359.4 306.2,1355.7 357.4,1366.8 408.6,1355.7 459.8,1388.8 511.1,1359.9 562.3,1291.7 613.5,1407.2 664.8,1309.2 716,1450.1 767.2,1424.3 818.5,1421.9 869.7,1430.5 920.9,1388.3 972.1,1366.3 1023.4,1370.5 1074.6,1377.1 1125.8,1363.1 1177.1,1384.7 1228.3,1399.1 1279.5,1377.5 1330.8,1381.5 1382,1363.1 1433.2,1377.3 1484.5,1359.4 1535.7,1381.5 1586.9,1380.9 1638.1,1316.6 1689.4,1251.9 1740.6,1269.9" fill="none" stroke="#6f98d4" stroke-width="7.0" stroke-linejoin="round" stroke-linecap="round"/>
<circle cx="198.2" cy="1476.4" r="8.15" fill="#7299d3" stroke="#5f8bd0" stroke-width="1.3"/>
<circle cx="248.4" cy="1353.9" r="8.15" fill="#7299d3" stroke="#5f8bd0" stroke-width="1.3"/>
<circle cx="302.3" cy="1350.2" r="8.15" fill="#7299d3" stroke="#5f8bd0" stroke-width="1.3"/>
<circle cx="352.5" cy="1361.3" r="8.15" fill="#7299d3" stroke="#5f8bd0" stroke-width="1.3"/>
<circle cx="402.7" cy="1350.2" r="8.15" fill="#7299d3" stroke="#5f8bd0" stroke-width="1.3"/>
<circle cx="453.4" cy="1383.3" r="8.15" fill="#7299d3" stroke="#5f8bd0" stroke-width="1.3"/>
<circle cx="507.3" cy="1354.4" r="8.15" fill="#7299d3" stroke="#5f8bd0" stroke-width="1.3"/>
<circle cx="557.5" cy="1286.2" r="8.15" fill="#7299d3" stroke="#5f8bd0" stroke-width="1.3"/>
<circle cx="608.6" cy="1401.7" r="8.15" fill="#7299d3" stroke="#5f8bd0" stroke-width="1.3"/>
<circle cx="658.8" cy="1303.7" r="8.15" fill="#7299d3" stroke="#5f8bd0" stroke-width="1.3"/>
<circle cx="712.7" cy="1444.6" r="8.15" fill="#7299d3" stroke="#5f8bd0" stroke-width="1.3"/>
<circle cx="762.9" cy="1418.8" r="8.15" fill="#7299d3" stroke="#5f8bd0" stroke-width="1.3"/>
<circle cx="813.1" cy="1416.4" r="8.15" fill="#7299d3" stroke="#5f8bd0" stroke-width="1.3"/>
<circle cx="863.3" cy="1425" r="8.15" fill="#7299d3" stroke="#5f8bd0" stroke-width="1.3"/>
<circle cx="917.2" cy="1382.8" r="8.15" fill="#7299d3" stroke="#5f8bd0" stroke-width="1.3"/>
<circle cx="967.4" cy="1360.8" r="8.15" fill="#7299d3" stroke="#5f8bd0" stroke-width="1.3"/>
<circle cx="1018.3" cy="1365" r="8.15" fill="#7299d3" stroke="#5f8bd0" stroke-width="1.3"/>
<circle cx="1068.3" cy="1371.6" r="8.15" fill="#7299d3" stroke="#5f8bd0" stroke-width="1.3"/>
<circle cx="1122.2" cy="1357.6" r="8.15" fill="#7299d3" stroke="#5f8bd0" stroke-width="1.3"/>
<circle cx="1172.4" cy="1379.2" r="8.15" fill="#7299d3" stroke="#5f8bd0" stroke-width="1.3"/>
<circle cx="1222.8" cy="1393.6" r="8.15" fill="#7299d3" stroke="#5f8bd0" stroke-width="1.3"/>
<circle cx="1273.2" cy="1372" r="8.15" fill="#7299d3" stroke="#5f8bd0" stroke-width="1.3"/>
<circle cx="1323.5" cy="1376" r="8.15" fill="#7299d3" stroke="#5f8bd0" stroke-width="1.3"/>
<circle cx="1377.4" cy="1357.6" r="8.15" fill="#7299d3" stroke="#5f8bd0" stroke-width="1.3"/>
<circle cx="1428.1" cy="1371.8" r="8.15" fill="#7299d3" stroke="#5f8bd0" stroke-width="1.3"/>
<circle cx="1478.3" cy="1353.9" r="8.15" fill="#7299d3" stroke="#5f8bd0" stroke-width="1.3"/>
<circle cx="1528.5" cy="1376" r="8.15" fill="#7299d3" stroke="#5f8bd0" stroke-width="1.3"/>
<circle cx="1582.4" cy="1375.4" r="8.15" fill="#7299d3" stroke="#5f8bd0" stroke-width="1.3"/>
<circle cx="1632.7" cy="1311.1" r="8.15" fill="#7299d3" stroke="#5f8bd0" stroke-width="1.3"/>
<circle cx="1682.9" cy="1246.4" r="8.15" fill="#7299d3" stroke="#5f8bd0" stroke-width="1.3"/>
<circle cx="1733.9" cy="1264.4" r="8.15" fill="#7299d3" stroke="#5f8bd0" stroke-width="1.3"/>
<polyline points="203.7,1399.8 254.9,1392.5 306.2,1445.6 357.4,1463.5 408.6,1448.8 459.8,1459.8 511.1,1470.9 562.3,1488 613.5,1499.1 664.8,1495.4 716,1459.9 767.2,1381.5 818.5,1406 869.7,1441.5 920.9,1470.3 972.1,1485.6 1023.4,1495.4 1074.6,1502.7 1125.8,1506.4 1177.1,1509.4 1228.3,1513.8 1279.5,1517 1330.8,1517.4 1382,1517.4 1433.2,1521.6 1484.5,1521.6 1535.7,1513.8 1586.9,1484.5 1638.1,1481.3 1689.4,1498.7 1740.6,1509.2" fill="none" stroke="#7eab4c" stroke-width="7.0" stroke-linejoin="round" stroke-linecap="round"/>
<circle cx="198.2" cy="1394.3" r="8.15" fill="#84ae52" stroke="#73a640" stroke-width="1.3"/>
<circle cx="248.4" cy="1387" r="8.15" fill="#84ae52" stroke="#73a640" stroke-width="1.3"/>
<circle cx="302.3" cy="1440.1" r="8.15" fill="#84ae52" stroke="#73a640" stroke-width="1.3"/>
<circle cx="352.5" cy="1458" r="8.15" fill="#84ae52" stroke="#73a640" stroke-width="1.3"/>
<circle cx="402.7" cy="1443.3" r="8.15" fill="#84ae52" stroke="#73a640" stroke-width="1.3"/>
<circle cx="453.4" cy="1454.3" r="8.15" fill="#84ae52" stroke="#73a640" stroke-width="1.3"/>
<circle cx="507.3" cy="1465.4" r="8.15" fill="#84ae52" stroke="#73a640" stroke-width="1.3"/>
<circle cx="557.5" cy="1482.5" r="8.15" fill="#84ae52" stroke="#73a640" stroke-width="1.3"/>
<circle cx="608.6" cy="1493.6" r="8.15" fill="#84ae52" stroke="#73a640" stroke-width="1.3"/>
<circle cx="658.8" cy="1489.9" r="8.15" fill="#84ae52" stroke="#73a640" stroke-width="1.3"/>
<circle cx="712.7" cy="1454.4" r="8.15" fill="#84ae52" stroke="#73a640" stroke-width="1.3"/>
<circle cx="762.9" cy="1376" r="8.15" fill="#84ae52" stroke="#73a640" stroke-width="1.3"/>
<circle cx="813.1" cy="1400.5" r="8.15" fill="#84ae52" stroke="#73a640" stroke-width="1.3"/>
<circle cx="863.3" cy="1436" r="8.15" fill="#84ae52" stroke="#73a640" stroke-width="1.3"/>
<circle cx="917.2" cy="1464.8" r="8.15" fill="#84ae52" stroke="#73a640" stroke-width="1.3"/>
<circle cx="967.4" cy="1480.1" r="8.15" fill="#84ae52" stroke="#73a640" stroke-width="1.3"/>
<circle cx="1018.3" cy="1489.9" r="8.15" fill="#84ae52" stroke="#73a640" stroke-width="1.3"/>
<circle cx="1068.3" cy="1497.2" r="8.15" fill="#84ae52" stroke="#73a640" stroke-width="1.3"/>
<circle cx="1122.2" cy="1500.9" r="8.15" fill="#84ae52" stroke="#73a640" stroke-width="1.3"/>
<circle cx="1172.4" cy="1503.9" r="8.15" fill="#84ae52" stroke="#73a640" stroke-width="1.3"/>
<circle cx="1222.8" cy="1508.3" r="8.15" fill="#84ae52" stroke="#73a640" stroke-width="1.3"/>
<circle cx="1273.2" cy="1511.5" r="8.15" fill="#84ae52" stroke="#73a640" stroke-width="1.3"/>
<circle cx="1323.5" cy="1511.9" r="8.15" fill="#84ae52" stroke="#73a640" stroke-width="1.3"/>
<circle cx="1377.4" cy="1511.9" r="8.15" fill="#84ae52" stroke="#73a640" stroke-width="1.3"/>
<circle cx="1428.1" cy="1516.1" r="8.15" fill="#84ae52" stroke="#73a640" stroke-width="1.3"/>
<circle cx="1478.3" cy="1516.1" r="8.15" fill="#84ae52" stroke="#73a640" stroke-width="1.3"/>
<circle cx="1528.5" cy="1508.3" r="8.15" fill="#84ae52" stroke="#73a640" stroke-width="1.3"/>
<circle cx="1582.4" cy="1479" r="8.15" fill="#84ae52" stroke="#73a640" stroke-width="1.3"/>
<circle cx="1632.7" cy="1475.8" r="8.15" fill="#84ae52" stroke="#73a640" stroke-width="1.3"/>
<circle cx="1682.9" cy="1493.2" r="8.15" fill="#84ae52" stroke="#73a640" stroke-width="1.3"/>
<circle cx="1733.9" cy="1503.7" r="8.15" fill="#84ae52" stroke="#73a640" stroke-width="1.3"/>
<line x1="177.7" y1="1713.1" x2="1762.7" y2="1713.1" stroke="#d2d2d2" stroke-width="2.9"/>
<line x1="177.7" y1="1820.6" x2="1762.7" y2="1820.6" stroke="#d2d2d2" stroke-width="2.9"/>
<line x1="177.7" y1="1925" x2="1762.7" y2="1925" stroke="#d2d2d2" stroke-width="2.9"/>
<line x1="177.7" y1="2032.8" x2="1762.7" y2="2032.8" stroke="#d2d2d2" stroke-width="2.9"/>
<line x1="177.7" y1="2140.8" x2="1762.7" y2="2140.8" stroke="#d2d2d2" stroke-width="2.9"/>
<line x1="177.7" y1="2248.5" x2="1762.7" y2="2248.5" stroke="#d2d2d2" stroke-width="2.9"/>
<line x1="177.7" y1="2353.6" x2="1762.7" y2="2353.6" stroke="#d2d2d2" stroke-width="2.9"/>
<text transform="translate(150.2,1724.2) scale(1,1.045)" text-anchor="end" class="t">600</text>
<text transform="translate(150.2,1831.7) scale(1,1.045)" text-anchor="end" class="t">500</text>
<text transform="translate(150.2,1936.1) scale(1,1.045)" text-anchor="end" class="t">400</text>
<text transform="translate(150.2,2043.9) scale(1,1.045)" text-anchor="end" class="t">300</text>
<text transform="translate(150.2,2151.9) scale(1,1.045)" text-anchor="end" class="t">200</text>
<text transform="translate(150.2,2259.6) scale(1,1.045)" text-anchor="end" class="t">100</text>
<text transform="translate(150.2,2364.7) scale(1,1.045)" text-anchor="end" class="t">0</text>
<text transform="translate(192.8,2402.5) scale(1,1.045)" text-anchor="middle" class="t">1</text>
<text transform="translate(277.7,2402.5) scale(1,1.045)" text-anchor="middle" class="t">4</text>
<text transform="translate(362.5,2402.5) scale(1,1.045)" text-anchor="middle" class="t">7</text>
<text transform="translate(447.4,2402.5) scale(1,1.045)" text-anchor="middle" class="t">10</text>
<text transform="translate(532.3,2402.5) scale(1,1.045)" text-anchor="middle" class="t">13</text>
<text transform="translate(617.1,2402.5) scale(1,1.045)" text-anchor="middle" class="t">16</text>
<text transform="translate(702,2402.5) scale(1,1.045)" text-anchor="middle" class="t">19</text>
<text transform="translate(786.9,2402.5) scale(1,1.045)" text-anchor="middle" class="t">22</text>
<text transform="translate(871.8,2402.5) scale(1,1.045)" text-anchor="middle" class="t">25</text>
<text transform="translate(956.6,2402.5) scale(1,1.045)" text-anchor="middle" class="t">28</text>
<text transform="translate(1041.5,2402.5) scale(1,1.045)" text-anchor="middle" class="t">31</text>
<text transform="translate(1126.4,2402.5) scale(1,1.045)" text-anchor="middle" class="t">34</text>
<text transform="translate(1211.2,2402.5) scale(1,1.045)" text-anchor="middle" class="t">37</text>
<text transform="translate(1296.1,2402.5) scale(1,1.045)" text-anchor="middle" class="t">40</text>
<text transform="translate(1381,2402.5) scale(1,1.045)" text-anchor="middle" class="t">43</text>
<text transform="translate(1465.8,2402.5) scale(1,1.045)" text-anchor="middle" class="t">46</text>
<text transform="translate(1550.7,2402.5) scale(1,1.045)" text-anchor="middle" class="t">49</text>
<text transform="translate(1635.6,2402.5) scale(1,1.045)" text-anchor="middle" class="t">52</text>
<text transform="translate(1720.5,2402.5) scale(1,1.045)" text-anchor="middle" class="t">55</text>
<text x="909.1" y="2448.2" text-anchor="middle" class="t">Days</text>
<text x="920.6" y="1779.3" text-anchor="middle" class="t" style="font-size:43px">Nintedanib start</text>
<line x1="924.2" y1="1800.7" x2="925" y2="2024" stroke="#000" stroke-width="7.3"/>
<polygon points="915,2022 935.5,2022 925.3,2041.5" fill="#000"/>
<polyline points="418.8,2250.8 447.1,2243.4 475.4,2250.8 503.7,2222.6 532,2254.4 560.3,2247.2 588.6,2258.3 616.9,2162.1 645.1,2200.3 673.4,2233.1 701.7,2218.6 730,2210.6 758.3,2217.9 786.6,2154.2 814.9,2222.8 843.2,2214.2 871.5,2204.4 899.8,2161.6 928,2114.2 956.3,2122.5 984.6,2121.3 1012.9,2082.6 1041.2,2085.8 1069.5,2074.7 1097.8,2100.5 1126.1,2071.1 1154.4,2053.9 1182.7,2042.4 1210.9,2060.5 1239.2,2003.7 1267.5,1881.2 1295.8,1914 1324.1,1985.3 1352.4,1992.7 1380.7,1946.1 1409,1842 1437.3,1871.4 1465.5,1957.2 1493.8,2011.1 1522.1,1856.3 1550.4,1975.5 1578.7,1938.8 1607,1877.8 1635.3,1855.5 1663.6,2032.6 1691.9,1968.1 1720.2,1996.3 1748.5,1974.7" fill="none" stroke="#d7793a" stroke-width="7.0" stroke-linejoin="round" stroke-linecap="round"/>
<circle cx="413.7" cy="2245.8" r="8.15" fill="#d77e3b" stroke="#cf6f28" stroke-width="1.3"/>
<circle cx="442.6" cy="2238.4" r="8.15" fill="#d77e3b" stroke="#cf6f28" stroke-width="1.3"/>
<circle cx="470.8" cy="2245.8" r="8.15" fill="#d77e3b" stroke="#cf6f28" stroke-width="1.3"/>
<circle cx="497" cy="2217.6" r="8.15" fill="#d77e3b" stroke="#cf6f28" stroke-width="1.3"/>
<circle cx="525.2" cy="2249.4" r="8.15" fill="#d77e3b" stroke="#cf6f28" stroke-width="1.3"/>
<circle cx="553.9" cy="2242.2" r="8.15" fill="#d77e3b" stroke="#cf6f28" stroke-width="1.3"/>
<circle cx="582.9" cy="2253.3" r="8.15" fill="#d77e3b" stroke="#cf6f28" stroke-width="1.3"/>
<circle cx="611.8" cy="2157.1" r="8.15" fill="#d77e3b" stroke="#cf6f28" stroke-width="1.3"/>
<circle cx="639.9" cy="2195.3" r="8.15" fill="#d77e3b" stroke="#cf6f28" stroke-width="1.3"/>
<circle cx="669.1" cy="2228.1" r="8.15" fill="#d77e3b" stroke="#cf6f28" stroke-width="1.3"/>
<circle cx="698" cy="2213.6" r="8.15" fill="#d77e3b" stroke="#cf6f28" stroke-width="1.3"/>
<circle cx="723.2" cy="2205.6" r="8.15" fill="#d77e3b" stroke="#cf6f28" stroke-width="1.3"/>
<circle cx="751.1" cy="2212.9" r="8.15" fill="#d77e3b" stroke="#cf6f28" stroke-width="1.3"/>
<circle cx="780.5" cy="2149.2" r="8.15" fill="#d77e3b" stroke="#cf6f28" stroke-width="1.3"/>
<circle cx="809" cy="2217.8" r="8.15" fill="#d77e3b" stroke="#cf6f28" stroke-width="1.3"/>
<circle cx="837.6" cy="2209.2" r="8.15" fill="#d77e3b" stroke="#cf6f28" stroke-width="1.3"/>
<circle cx="866.5" cy="2199.4" r="8.15" fill="#d77e3b" stroke="#cf6f28" stroke-width="1.3"/>
<circle cx="895.2" cy="2156.6" r="8.15" fill="#d77e3b" stroke="#cf6f28" stroke-width="1.3"/>
<circle cx="924.3" cy="2109.2" r="8.15" fill="#d77e3b" stroke="#cf6f28" stroke-width="1.3"/>
<circle cx="949.7" cy="2117.5" r="8.15" fill="#d77e3b" stroke="#cf6f28" stroke-width="1.3"/>
<circle cx="978.4" cy="2116.3" r="8.15" fill="#d77e3b" stroke="#cf6f28" stroke-width="1.3"/>
<circle cx="1007.3" cy="2077.6" r="8.15" fill="#d77e3b" stroke="#cf6f28" stroke-width="1.3"/>
<circle cx="1035.9" cy="2080.8" r="8.15" fill="#d77e3b" stroke="#cf6f28" stroke-width="1.3"/>
<circle cx="1064.6" cy="2069.7" r="8.15" fill="#d77e3b" stroke="#cf6f28" stroke-width="1.3"/>
<circle cx="1093.5" cy="2095.5" r="8.15" fill="#d77e3b" stroke="#cf6f28" stroke-width="1.3"/>
<circle cx="1122.2" cy="2066.1" r="8.15" fill="#d77e3b" stroke="#cf6f28" stroke-width="1.3"/>
<circle cx="1151.1" cy="2048.9" r="8.15" fill="#d77e3b" stroke="#cf6f28" stroke-width="1.3"/>
<circle cx="1176.3" cy="2037.4" r="8.15" fill="#d77e3b" stroke="#cf6f28" stroke-width="1.3"/>
<circle cx="1205" cy="2055.5" r="8.15" fill="#d77e3b" stroke="#cf6f28" stroke-width="1.3"/>
<circle cx="1233.6" cy="1998.7" r="8.15" fill="#d77e3b" stroke="#cf6f28" stroke-width="1.3"/>
<circle cx="1262.7" cy="1876.2" r="8.15" fill="#d77e3b" stroke="#cf6f28" stroke-width="1.3"/>
<circle cx="1291.3" cy="1909" r="8.15" fill="#d77e3b" stroke="#cf6f28" stroke-width="1.3"/>
<circle cx="1320" cy="1980.3" r="8.15" fill="#d77e3b" stroke="#cf6f28" stroke-width="1.3"/>
<circle cx="1348.7" cy="1987.7" r="8.15" fill="#d77e3b" stroke="#cf6f28" stroke-width="1.3"/>
<circle cx="1377.6" cy="1941.1" r="8.15" fill="#d77e3b" stroke="#cf6f28" stroke-width="1.3"/>
<circle cx="1402.6" cy="1837" r="8.15" fill="#d77e3b" stroke="#cf6f28" stroke-width="1.3"/>
<circle cx="1431.5" cy="1866.4" r="8.15" fill="#d77e3b" stroke="#cf6f28" stroke-width="1.3"/>
<circle cx="1460.4" cy="1952.2" r="8.15" fill="#d77e3b" stroke="#cf6f28" stroke-width="1.3"/>
<circle cx="1489" cy="2006.1" r="8.15" fill="#d77e3b" stroke="#cf6f28" stroke-width="1.3"/>
<circle cx="1517.7" cy="1851.3" r="8.15" fill="#d77e3b" stroke="#cf6f28" stroke-width="1.3"/>
<circle cx="1546.6" cy="1970.5" r="8.15" fill="#d77e3b" stroke="#cf6f28" stroke-width="1.3"/>
<circle cx="1575.4" cy="1933.8" r="8.15" fill="#d77e3b" stroke="#cf6f28" stroke-width="1.3"/>
<circle cx="1604.1" cy="1872.8" r="8.15" fill="#d77e3b" stroke="#cf6f28" stroke-width="1.3"/>
<circle cx="1629" cy="1850.5" r="8.15" fill="#d77e3b" stroke="#cf6f28" stroke-width="1.3"/>
<circle cx="1657.4" cy="2027.6" r="8.15" fill="#d77e3b" stroke="#cf6f28" stroke-width="1.3"/>
<circle cx="1686.6" cy="1963.1" r="8.15" fill="#d77e3b" stroke="#cf6f28" stroke-width="1.3"/>
<circle cx="1715.4" cy="1991.3" r="8.15" fill="#d77e3b" stroke="#cf6f28" stroke-width="1.3"/>
<circle cx="1744.1" cy="1969.7" r="8.15" fill="#d77e3b" stroke="#cf6f28" stroke-width="1.3"/>
<polyline points="418.8,2283.8 447.1,2282.6 475.4,2278.9 503.7,2276 532,2291.2 560.3,2286 588.6,2286 616.9,2297.5 645.1,2275.5 673.4,2260.8 701.7,2256.6 730,2261.5 758.3,2268.1 786.6,2270.6 814.9,2282.8 843.2,2261.5 871.5,2239.9 899.8,2246.1 928,2246.7 956.3,2208.2 984.6,2218 1012.9,2172.7 1041.2,2172.7 1069.5,2176.4 1097.8,2186.2 1126.1,2160.5 1154.4,2145.8 1182.7,2125 1210.9,2128.1 1239.2,2089.4 1267.5,2086.2 1295.8,2081.3 1324.1,2071.1 1352.4,2071.1 1380.7,2028.7 1409,2076 1437.3,2132.3 1465.5,2021.3 1493.8,2023.3 1522.1,2158 1550.4,2021.3 1578.7,2125.6 1607,2125.6 1635.3,2093 1663.6,2169 1691.9,2096.6 1720.2,2070.9 1748.5,2208.7" fill="none" stroke="#6f98d4" stroke-width="7.0" stroke-linejoin="round" stroke-linecap="round"/>
<circle cx="413.7" cy="2278.8" r="8.15" fill="#7299d3" stroke="#5f8bd0" stroke-width="1.3"/>
<circle cx="442.6" cy="2277.6" r="8.15" fill="#7299d3" stroke="#5f8bd0" stroke-width="1.3"/>
<circle cx="470.8" cy="2273.9" r="8.15" fill="#7299d3" stroke="#5f8bd0" stroke-width="1.3"/>
<circle cx="497" cy="2271" r="8.15" fill="#7299d3" stroke="#5f8bd0" stroke-width="1.3"/>
<circle cx="525.2" cy="2286.2" r="8.15" fill="#7299d3" stroke="#5f8bd0" stroke-width="1.3"/>
<circle cx="553.9" cy="2281" r="8.15" fill="#7299d3" stroke="#5f8bd0" stroke-width="1.3"/>
<circle cx="582.9" cy="2281" r="8.15" fill="#7299d3" stroke="#5f8bd0" stroke-width="1.3"/>
<circle cx="611.8" cy="2292.5" r="8.15" fill="#7299d3" stroke="#5f8bd0" stroke-width="1.3"/>
<circle cx="639.9" cy="2270.5" r="8.15" fill="#7299d3" stroke="#5f8bd0" stroke-width="1.3"/>
<circle cx="669.1" cy="2255.8" r="8.15" fill="#7299d3" stroke="#5f8bd0" stroke-width="1.3"/>
<circle cx="698" cy="2251.6" r="8.15" fill="#7299d3" stroke="#5f8bd0" stroke-width="1.3"/>
<circle cx="723.2" cy="2256.5" r="8.15" fill="#7299d3" stroke="#5f8bd0" stroke-width="1.3"/>
<circle cx="751.1" cy="2263.1" r="8.15" fill="#7299d3" stroke="#5f8bd0" stroke-width="1.3"/>
<circle cx="780.5" cy="2265.6" r="8.15" fill="#7299d3" stroke="#5f8bd0" stroke-width="1.3"/>
<circle cx="809" cy="2277.8" r="8.15" fill="#7299d3" stroke="#5f8bd0" stroke-width="1.3"/>
<circle cx="837.6" cy="2256.5" r="8.15" fill="#7299d3" stroke="#5f8bd0" stroke-width="1.3"/>
<circle cx="866.5" cy="2234.9" r="8.15" fill="#7299d3" stroke="#5f8bd0" stroke-width="1.3"/>
<circle cx="895.2" cy="2241.1" r="8.15" fill="#7299d3" stroke="#5f8bd0" stroke-width="1.3"/>
<circle cx="924.3" cy="2241.7" r="8.15" fill="#7299d3" stroke="#5f8bd0" stroke-width="1.3"/>
<circle cx="949.7" cy="2203.2" r="8.15" fill="#7299d3" stroke="#5f8bd0" stroke-width="1.3"/>
<circle cx="978.4" cy="2213" r="8.15" fill="#7299d3" stroke="#5f8bd0" stroke-width="1.3"/>
<circle cx="1007.3" cy="2167.7" r="8.15" fill="#7299d3" stroke="#5f8bd0" stroke-width="1.3"/>
<circle cx="1035.9" cy="2167.7" r="8.15" fill="#7299d3" stroke="#5f8bd0" stroke-width="1.3"/>
<circle cx="1064.6" cy="2171.4" r="8.15" fill="#7299d3" stroke="#5f8bd0" stroke-width="1.3"/>
<circle cx="1093.5" cy="2181.2" r="8.15" fill="#7299d3" stroke="#5f8bd0" stroke-width="1.3"/>
<circle cx="1122.2" cy="2155.5" r="8.15" fill="#7299d3" stroke="#5f8bd0" stroke-width="1.3"/>
<circle cx="1151.1" cy="2140.8" r="8.15" fill="#7299d3" stroke="#5f8bd0" stroke-width="1.3"/>
<circle cx="1176.3" cy="2120" r="8.15" fill="#7299d3" stroke="#5f8bd0" stroke-width="1.3"/>
<circle cx="1205" cy="2123.1" r="8.15" fill="#7299d3" stroke="#5f8bd0" stroke-width="1.3"/>
<circle cx="1233.6" cy="2084.4" r="8.15" fill="#7299d3" stroke="#5f8bd0" stroke-width="1.3"/>
<circle cx="1262.7" cy="2081.2" r="8.15" fill="#7299d3" stroke="#5f8bd0" stroke-width="1.3"/>
<circle cx="1291.3" cy="2076.3" r="8.15" fill="#7299d3" stroke="#5f8bd0" stroke-width="1.3"/>
<circle cx="1320" cy="2066.1" r="8.15" fill="#7299d3" stroke="#5f8bd0" stroke-width="1.3"/>
<circle cx="1348.7" cy="2066.1" r="8.15" fill="#7299d3" stroke="#5f8bd0" stroke-width="1.3"/>
<circle cx="1377.6" cy="2023.7" r="8.15" fill="#7299d3" stroke="#5f8bd0" stroke-width="1.3"/>
<circle cx="1402.6" cy="2071" r="8.15" fill="#7299d3" stroke="#5f8bd0" stroke-width="1.3"/>
<circle cx="1431.5" cy="2127.3" r="8.15" fill="#7299d3" stroke="#5f8bd0" stroke-width="1.3"/>
<circle cx="1460.4" cy="2016.3" r="8.15" fill="#7299d3" stroke="#5f8bd0" stroke-width="1.3"/>
<circle cx="1489" cy="2018.3" r="8.15" fill="#7299d3" stroke="#5f8bd0" stroke-width="1.3"/>
<circle cx="1517.7" cy="2153" r="8.15" fill="#7299d3" stroke="#5f8bd0" stroke-width="1.3"/>
<circle cx="1546.6" cy="2016.3" r="8.15" fill="#7299d3" stroke="#5f8bd0" stroke-width="1.3"/>
<circle cx="1575.4" cy="2120.6" r="8.15" fill="#7299d3" stroke="#5f8bd0" stroke-width="1.3"/>
<circle cx="1604.1" cy="2120.6" r="8.15" fill="#7299d3" stroke="#5f8bd0" stroke-width="1.3"/>
<circle cx="1629" cy="2088" r="8.15" fill="#7299d3" stroke="#5f8bd0" stroke-width="1.3"/>
<circle cx="1657.4" cy="2164" r="8.15" fill="#7299d3" stroke="#5f8bd0" stroke-width="1.3"/>
<circle cx="1686.6" cy="2091.6" r="8.15" fill="#7299d3" stroke="#5f8bd0" stroke-width="1.3"/>
<circle cx="1715.4" cy="2065.9" r="8.15" fill="#7299d3" stroke="#5f8bd0" stroke-width="1.3"/>
<circle cx="1744.1" cy="2203.7" r="8.15" fill="#7299d3" stroke="#5f8bd0" stroke-width="1.3"/>
<polyline points="192.5,2323.8 220.8,2327 249.1,2308.6 277.4,2251.2 305.7,2255 333.9,2161.9 362.2,2136.4 390.5,2114.8 418.8,2085.9 447.1,2114.8 475.4,2085.9 503.7,2122.2 532,2064.6 560.3,2054 588.6,2079 616.9,2132.9 645.1,2197.1 673.4,2206.9 701.7,2279.9 730,2312.9 758.3,2301.2 786.6,2264.4 814.9,2288.9 843.2,2304.1 871.5,2297.5 899.8,2276.2 928,2259 956.3,2290.3 984.6,2308.7 1012.9,2323.4 1041.2,2333.2 1069.5,2336.8 1097.8,2343 1126.1,2345.4 1154.4,2345.4 1182.7,2345.4 1210.9,2350.3 1239.2,2349.1 1267.5,2350.3 1295.8,2345.4 1324.1,2350.3 1352.4,2351.5 1380.7,2351.5 1409,2351.5 1437.3,2351.5 1465.5,2351.5 1493.8,2350.3 1522.1,2351.5 1550.4,2351.5 1578.7,2350.2 1607,2350.2 1635.3,2339.8 1663.6,2337 1691.9,2343.9 1720.2,2347.5 1748.5,2350" fill="none" stroke="#7eab4c" stroke-width="7.0" stroke-linejoin="round" stroke-linecap="round"/>
<circle cx="186.8" cy="2318.8" r="8.15" fill="#84ae52" stroke="#73a640" stroke-width="1.3"/>
<circle cx="215.7" cy="2322" r="8.15" fill="#84ae52" stroke="#73a640" stroke-width="1.3"/>
<circle cx="244.3" cy="2303.6" r="8.15" fill="#84ae52" stroke="#73a640" stroke-width="1.3"/>
<circle cx="273.4" cy="2246.2" r="8.15" fill="#84ae52" stroke="#73a640" stroke-width="1.3"/>
<circle cx="298.7" cy="2250" r="8.15" fill="#84ae52" stroke="#73a640" stroke-width="1.3"/>
<circle cx="328" cy="2156.9" r="8.15" fill="#84ae52" stroke="#73a640" stroke-width="1.3"/>
<circle cx="356.2" cy="2131.4" r="8.15" fill="#84ae52" stroke="#73a640" stroke-width="1.3"/>
<circle cx="384.8" cy="2109.8" r="8.15" fill="#84ae52" stroke="#73a640" stroke-width="1.3"/>
<circle cx="413.7" cy="2080.9" r="8.15" fill="#84ae52" stroke="#73a640" stroke-width="1.3"/>
<circle cx="442.6" cy="2109.8" r="8.15" fill="#84ae52" stroke="#73a640" stroke-width="1.3"/>
<circle cx="470.8" cy="2080.9" r="8.15" fill="#84ae52" stroke="#73a640" stroke-width="1.3"/>
<circle cx="497" cy="2117.2" r="8.15" fill="#84ae52" stroke="#73a640" stroke-width="1.3"/>
<circle cx="525.2" cy="2059.6" r="8.15" fill="#84ae52" stroke="#73a640" stroke-width="1.3"/>
<circle cx="553.9" cy="2049" r="8.15" fill="#84ae52" stroke="#73a640" stroke-width="1.3"/>
<circle cx="582.9" cy="2074" r="8.15" fill="#84ae52" stroke="#73a640" stroke-width="1.3"/>
<circle cx="611.8" cy="2127.9" r="8.15" fill="#84ae52" stroke="#73a640" stroke-width="1.3"/>
<circle cx="639.9" cy="2192.1" r="8.15" fill="#84ae52" stroke="#73a640" stroke-width="1.3"/>
<circle cx="669.1" cy="2201.9" r="8.15" fill="#84ae52" stroke="#73a640" stroke-width="1.3"/>
<circle cx="698" cy="2274.9" r="8.15" fill="#84ae52" stroke="#73a640" stroke-width="1.3"/>
<circle cx="723.2" cy="2307.9" r="8.15" fill="#84ae52" stroke="#73a640" stroke-width="1.3"/>
<circle cx="751.1" cy="2296.2" r="8.15" fill="#84ae52" stroke="#73a640" stroke-width="1.3"/>
<circle cx="780.5" cy="2259.4" r="8.15" fill="#84ae52" stroke="#73a640" stroke-width="1.3"/>
<circle cx="809" cy="2283.9" r="8.15" fill="#84ae52" stroke="#73a640" stroke-width="1.3"/>
<circle cx="837.6" cy="2299.1" r="8.15" fill="#84ae52" stroke="#73a640" stroke-width="1.3"/>
<circle cx="866.5" cy="2292.5" r="8.15" fill="#84ae52" stroke="#73a640" stroke-width="1.3"/>
<circle cx="895.2" cy="2271.2" r="8.15" fill="#84ae52" stroke="#73a640" stroke-width="1.3"/>
<circle cx="924.3" cy="2254" r="8.15" fill="#84ae52" stroke="#73a640" stroke-width="1.3"/>
<circle cx="949.7" cy="2285.3" r="8.15" fill="#84ae52" stroke="#73a640" stroke-width="1.3"/>
<circle cx="978.4" cy="2303.7" r="8.15" fill="#84ae52" stroke="#73a640" stroke-width="1.3"/>
<circle cx="1007.3" cy="2318.4" r="8.15" fill="#84ae52" stroke="#73a640" stroke-width="1.3"/>
<circle cx="1035.9" cy="2328.2" r="8.15" fill="#84ae52" stroke="#73a640" stroke-width="1.3"/>
<circle cx="1064.6" cy="2331.8" r="8.15" fill="#84ae52" stroke="#73a640" stroke-width="1.3"/>
<circle cx="1093.5" cy="2338" r="8.15" fill="#84ae52" stroke="#73a640" stroke-width="1.3"/>
<circle cx="1122.2" cy="2340.4" r="8.15" fill="#84ae52" stroke="#73a640" stroke-width="1.3"/>
<circle cx="1151.1" cy="2340.4" r="8.15" fill="#84ae52" stroke="#73a640" stroke-width="1.3"/>
<circle cx="1176.3" cy="2340.4" r="8.15" fill="#84ae52" stroke="#73a640" stroke-width="1.3"/>
<circle cx="1205" cy="2345.3" r="8.15" fill="#84ae52" stroke="#73a640" stroke-width="1.3"/>
<circle cx="1233.6" cy="2344.1" r="8.15" fill="#84ae52" stroke="#73a640" stroke-width="1.3"/>
<circle cx="1262.7" cy="2345.3" r="8.15" fill="#84ae52" stroke="#73a640" stroke-width="1.3"/>
<circle cx="1291.3" cy="2340.4" r="8.15" fill="#84ae52" stroke="#73a640" stroke-width="1.3"/>
<circle cx="1320" cy="2345.3" r="8.15" fill="#84ae52" stroke="#73a640" stroke-width="1.3"/>
<circle cx="1348.7" cy="2346.5" r="8.15" fill="#84ae52" stroke="#73a640" stroke-width="1.3"/>
<circle cx="1377.6" cy="2346.5" r="8.15" fill="#84ae52" stroke="#73a640" stroke-width="1.3"/>
<circle cx="1402.6" cy="2346.5" r="8.15" fill="#84ae52" stroke="#73a640" stroke-width="1.3"/>
<circle cx="1431.5" cy="2346.5" r="8.15" fill="#84ae52" stroke="#73a640" stroke-width="1.3"/>
<circle cx="1460.4" cy="2346.5" r="8.15" fill="#84ae52" stroke="#73a640" stroke-width="1.3"/>
<circle cx="1489" cy="2345.3" r="8.15" fill="#84ae52" stroke="#73a640" stroke-width="1.3"/>
<circle cx="1517.7" cy="2346.5" r="8.15" fill="#84ae52" stroke="#73a640" stroke-width="1.3"/>
<circle cx="1546.6" cy="2346.5" r="8.15" fill="#84ae52" stroke="#73a640" stroke-width="1.3"/>
<circle cx="1575.4" cy="2345.2" r="8.15" fill="#84ae52" stroke="#73a640" stroke-width="1.3"/>
<circle cx="1604.1" cy="2345.2" r="8.15" fill="#84ae52" stroke="#73a640" stroke-width="1.3"/>
<circle cx="1629" cy="2334.8" r="8.15" fill="#84ae52" stroke="#73a640" stroke-width="1.3"/>
<circle cx="1657.4" cy="2332" r="8.15" fill="#84ae52" stroke="#73a640" stroke-width="1.3"/>
<circle cx="1686.6" cy="2338.9" r="8.15" fill="#84ae52" stroke="#73a640" stroke-width="1.3"/>
<circle cx="1715.4" cy="2342.5" r="8.15" fill="#84ae52" stroke="#73a640" stroke-width="1.3"/>
<circle cx="1744.1" cy="2345" r="8.15" fill="#84ae52" stroke="#73a640" stroke-width="1.3"/>
</svg>
</body></html>
